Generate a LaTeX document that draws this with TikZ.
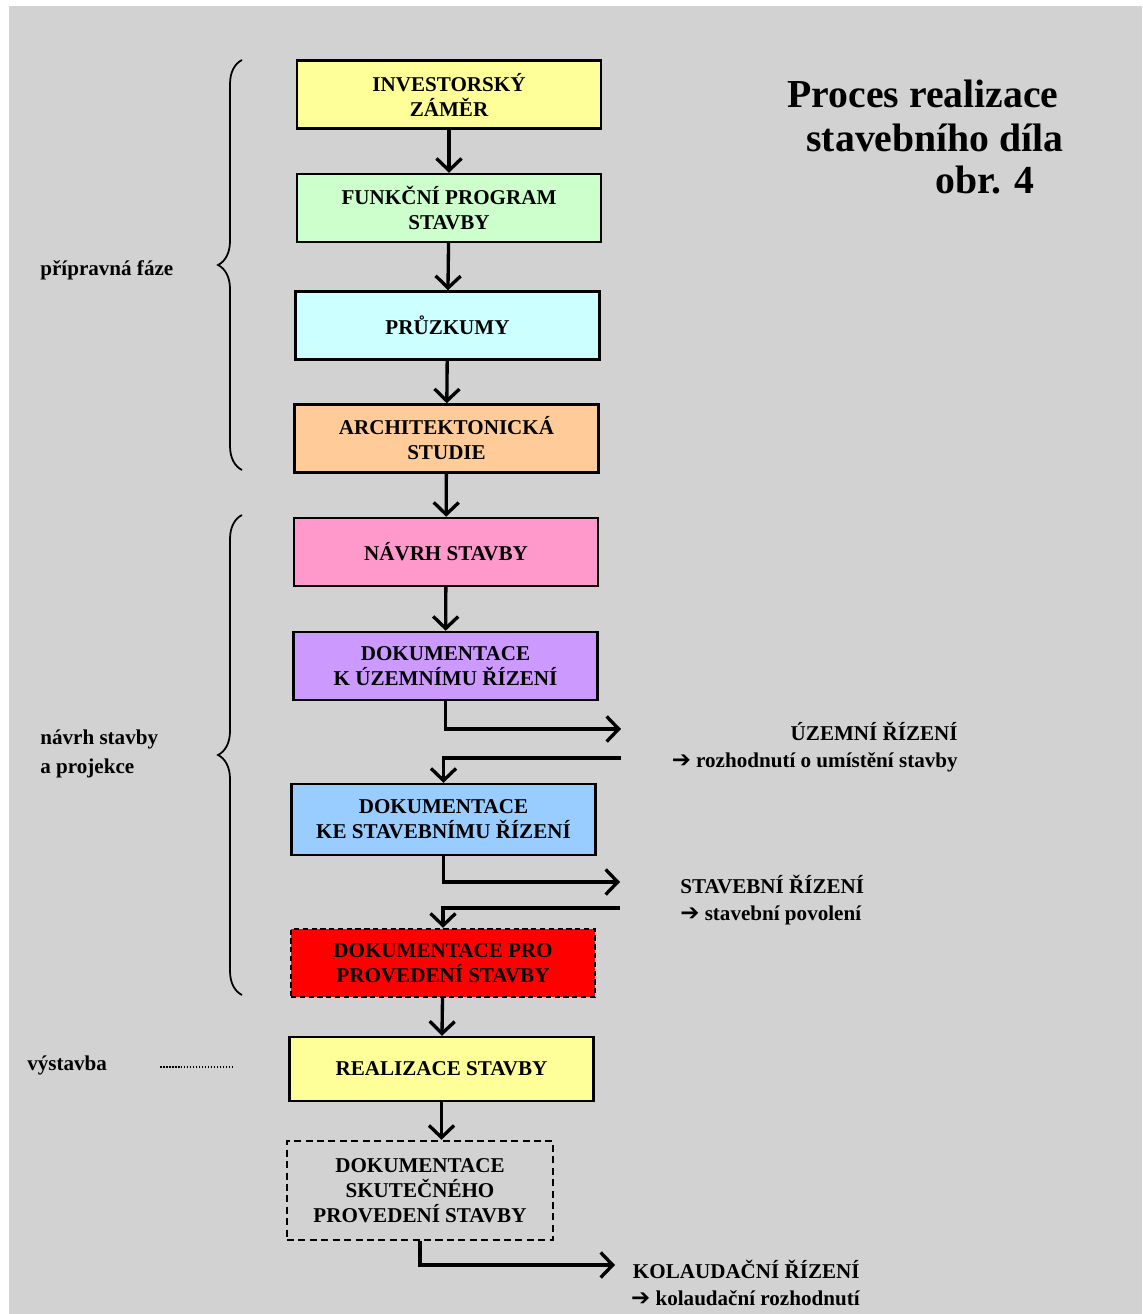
\documentclass[tikz,border=0pt]{standalone}
\usepackage{fontspec}
\setmainfont{Liberation Serif}
\newfontfamily\symfont{DejaVu Sans}
\usepackage{tikz}
\usetikzlibrary{arrows.meta, calc, positioning, decorations.pathreplacing}
\definecolor{bggrey}{HTML}{D2D2D2}
\definecolor{boxyellow}{HTML}{FFFF99}
\definecolor{boxgreen}{HTML}{CCFFCC}
\definecolor{boxcyan}{HTML}{CCFFFF}
\definecolor{boxpeach}{HTML}{FFCC99}
\definecolor{boxpink}{HTML}{FF99CC}
\definecolor{boxpurple}{HTML}{CC99FF}
\definecolor{boxblue}{HTML}{99CCFF}
\definecolor{boxred}{HTML}{FF0000}
\tikzstyle{block} = [rectangle, line width=1.4pt, minimum width=6.08cm, minimum height=1.36cm, text centered, align=center, draw=black, font=\fontsize{12}{14.2}\selectfont\bfseries]
\tikzstyle{dashblock} = [block, dash pattern=on 3pt off 2pt]
\tikzstyle{arrow} = [line width=1.9pt, -{Straight Barb[length=2.4mm, width=5mm]}]
\tikzstyle{sidetext} = [font=\fontsize{12}{14.2}\selectfont\bfseries, inner sep=0pt]
\tikzstyle{headline} = [font=\fontsize{22.6}{26}\selectfont\bfseries, inner sep=0pt]
\tikzstyle{phase} = [decorate, decoration={brace, amplitude=0.48cm}, line width=1pt]
\newcommand{\smallarrow}{{\symfont\fontsize{13}{14}\selectfont ➔}}

\begin{document}
\begin{tikzpicture}[x=0.02cm, y=-0.02cm]
		\fill[white] (0,0) rectangle (1142,1314);
		\fill[bggrey] (9,6) rectangle (1142,1314);
		\useasboundingbox (0,0) rectangle (1142,1314);
		% title
		\node (Title1) [headline] at (923,94) {Proces realizace};
		\node (Title2) [headline] at (935,138) {stavebního díla};
		\node (Title3) [headline] at (985,180) {obr. 4};
		% main chain
		\node (Zamer) [block, fill=boxyellow] at (449,94.5) {INVESTORSKÝ\\ZÁMĚR};
		\node (Program) [block, fill=boxgreen] at (449,208) {FUNKČNÍ PROGRAM\\STAVBY};
		\node (Pruzkumy) [block, fill=boxcyan] at (447.5,325.5) {PRŮZKUMY};
		\node (Studie) [block, fill=boxpeach] at (446.5,438.5) {ARCHITEKTONICKÁ\\STUDIE};
		\node (Navrh) [block, fill=boxpink] at (446,552) {NÁVRH STAVBY};
		\node (DokUzemni) [block, fill=boxpurple] at (445.5,666) {DOKUMENTACE\\K ÚZEMNÍMU ŘÍZENÍ};
		\node (DokStavebni) [block, fill=boxblue, minimum height=1.42cm] at (443.5,819.5) {DOKUMENTACE\\KE STAVEBNÍMU ŘÍZENÍ};
		\node (DokProvedeni) [dashblock, fill=boxred] at (443,963) {DOKUMENTACE PRO\\PROVEDENÍ STAVBY};
		\node (Realizace) [block, fill=boxyellow, minimum height=1.28cm] at (441.5,1069) {REALIZACE STAVBY};
		\node (DokSkutecne) [dashblock, dash pattern=on 4pt off 2.5pt, minimum width=5.32cm, minimum height=1.98cm] at (420,1190.5) {DOKUMENTACE\\SKUTEČNÉHO\\PROVEDENÍ STAVBY};
		% proceedings on the right
		\node (UzemniRizeni) [sidetext, align=right, anchor=east] at (958,747) {ÚZEMNÍ ŘÍZENÍ\\[1pt]\smallarrow\ rozhodnutí o umístění stavby};
		\node (StavebniRizeni) [sidetext, align=left, anchor=west] at (680,900) {STAVEBNÍ ŘÍZENÍ\\[1pt]\smallarrow\ stavební povolení};
		\node (KolaudacniRizeni) [sidetext, align=right, anchor=east] at (860,1283) {KOLAUDAČNÍ ŘÍZENÍ\\[1pt]\smallarrow\ kolaudační rozhodnutí};
		\coordinate (UzemniOut) at (621,729);
		\coordinate (UzemniIn) at (621,758);
		\coordinate (StavebniOut) at (620,882);
		\coordinate (StavebniIn) at (620,908);
		\coordinate (KolaudacniOut) at (615,1265);
		% phases on the left
		\node (Pripravna) [sidetext, anchor=west] at (40,270) {přípravná fáze};
		\node (Projekce) [sidetext, anchor=west, align=left] at (40,754) {návrh stavby\\[2pt]a projekce};
		\node (Vystavba) [sidetext, anchor=west] at (27,1065) {výstavba};
		\coordinate (DotsStart) at (160,1067);
		\coordinate (DotsEnd) at (232,1067);
		\draw [phase] (242,470) -- (242,60);
		\draw [phase] (242,995) -- (242,515);
		\draw [line width=1.6pt, dash pattern=on 0.9pt off 0.8pt] (DotsStart) -- (DotsEnd);
		% arrows
		\draw [arrow] (Zamer) -- (Program);
		\draw [arrow] (Program) -- (Pruzkumy);
		\draw [arrow] (Pruzkumy) -- (Studie);
		\draw [arrow] (Studie) -- (Navrh);
		\draw [arrow] (Navrh) -- (DokUzemni);
		\draw [arrow] (DokUzemni.south) |- (UzemniOut);
		\draw [arrow] (UzemniIn) -| (DokStavebni.north);
		\draw [arrow] (DokStavebni.south) |- (StavebniOut);
		\draw [arrow] (StavebniIn) -| (DokProvedeni.north);
		\draw [arrow] (DokProvedeni) -- (Realizace);
		\draw [arrow] (Realizace.south) -- (Realizace.south |- DokSkutecne.north);
		\draw [arrow] (DokSkutecne.south) |- (KolaudacniOut);
\end{tikzpicture}
\end{document}
